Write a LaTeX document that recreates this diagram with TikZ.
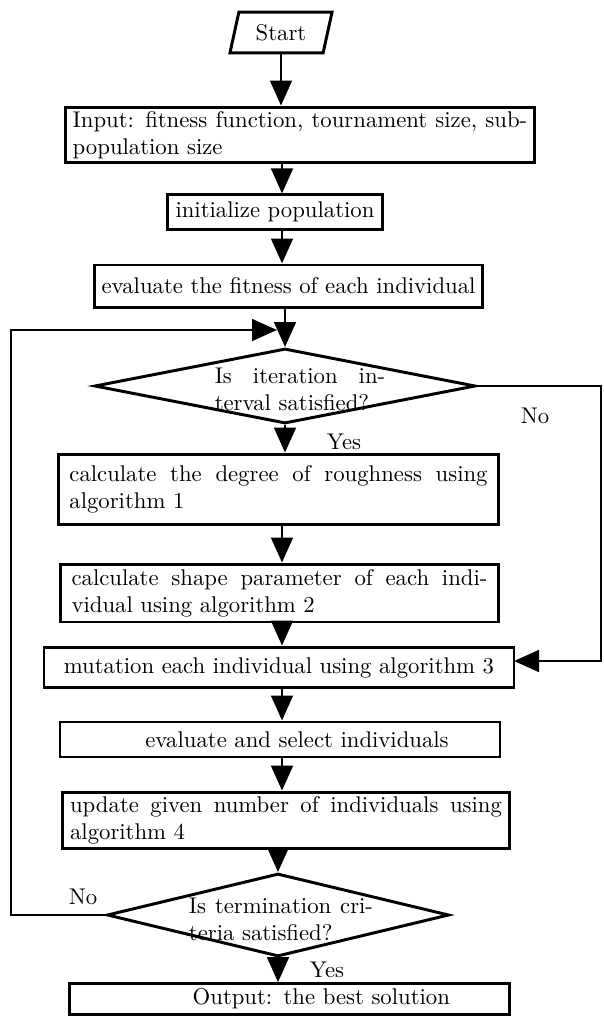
\documentclass[tikz,border=0pt]{standalone}
\usepackage{tikz}
\usetikzlibrary{shapes.geometric, arrows.meta}

\begin{document}
\begin{tikzpicture}[x=0.44pt, y=-0.44pt,
    block/.style={draw, line width=1.3pt, rectangle, inner xsep=3pt, inner ysep=1pt},
    para/.style={block, text width=#1, align=justify},
    decision/.style={draw, line width=1.3pt, diamond, inner sep=0pt},
    arr/.style={line width=1.3pt, -{Triangle[length=11pt, width=9.5pt]}},
    flow/.style={line width=1.3pt}]
    \useasboundingbox (0,0) rectangle (603,1016);

    \node[draw, line width=1.3pt, trapezium, trapezium left angle=72, trapezium right angle=108,
          trapezium stretches=true, minimum width=45pt, minimum height=18pt, inner sep=0pt] (start) at (281,32.5) {Start};
    \node[para=200pt, minimum height=24.6pt] (input) at (300,135) {Input: fitness function, tournament size, sub-\linebreak population size};
    \node[block, minimum width=95pt, minimum height=15pt] (init) at (275,212) {initialize population};
    \node[block, minimum width=171pt, minimum height=18.5pt] (eval) at (288.5,286) {evaluate the fitness of each individual};
    \node[decision, minimum width=167.6pt, minimum height=33pt] (iter) at (285,386) {};
    \node[text width=75pt, align=justify, inner sep=0pt] (itertext) at (300,389) {Is iteration in-\linebreak terval satisfied?};
    \node[para=184pt, inner xsep=5pt, minimum height=31.2pt] (rough) at (278.5,489.5) {calculate the degree of roughness using\linebreak algorithm 1};
    \node[para=183pt, inner xsep=5pt, minimum height=25.5pt] (shape) at (279.5,593) {calculate shape parameter of each indi-\linebreak vidual using algorithm 2};
    \node[block, minimum width=206.8pt, minimum height=18pt] (mutate) at (279,667.5) {mutation each individual using algorithm 3};
    \node[block, text width=187.6pt, align=center, minimum height=15.4pt] (select) at (280,739.5) {\hspace*{15pt}evaluate and select individuals};
    \node[para=190pt, inner xsep=3.5pt, minimum height=25pt] (update) at (286,820.5) {update given number of individuals using\linebreak algorithm 4};
    \node[decision, minimum width=150.5pt, minimum height=36.5pt] (stop) at (278,915) {};
    \node[text width=81pt, align=justify, inner sep=0pt] (stoptext) at (281,919) {Is termination cri-\linebreak teria satisfied?};
    \node[block, text width=188pt, align=center, minimum height=13.5pt] (output) at (289.5,999) {\hspace*{28pt}Output: the best solution};

    \node (yes1) at (344,442) {Yes};
    \node (no1) at (535,416) {No};
    \node (no2) at (83,897) {No};
    \node (yes2) at (327,970) {Yes};

    % corners of the two loops
    \coordinate (axis) at (282,0);
    \coordinate (lefttop) at (11,330);
    \coordinate (join) at (277,330);
    \coordinate (rightside) at (601,0);
    \coordinate (mutin) at (514,661);

    \draw[arr] (start.south) -- (start.south |- input.north);
    \draw[arr] (input.south -| axis) -- (init.north -| axis);
    \draw[arr] (init.south -| axis) -- (eval.north -| axis);
    \draw[arr] (eval.south -| iter.north) -- (iter.north);
    \draw[arr] (iter.south) -- (iter.south |- rough.north);
    \draw[arr] (rough.south -| axis) -- (shape.north -| axis);
    \draw[arr] (shape.south -| axis) -- (mutate.north -| axis);
    \draw[arr] (mutate.south -| axis) -- (select.north -| axis);
    \draw[arr] (select.south -| axis) -- (update.north -| axis);
    \draw[arr] (update.south -| stop.north) -- (stop.north);
    \draw[arr] (stop.south) -- (stop.south |- output.north);

    \draw[arr] (stop.west) -| (lefttop) -- (join);
    \draw[arr] (iter.east) -- (iter.east -| rightside) |- (mutin);
\end{tikzpicture}
\end{document}
